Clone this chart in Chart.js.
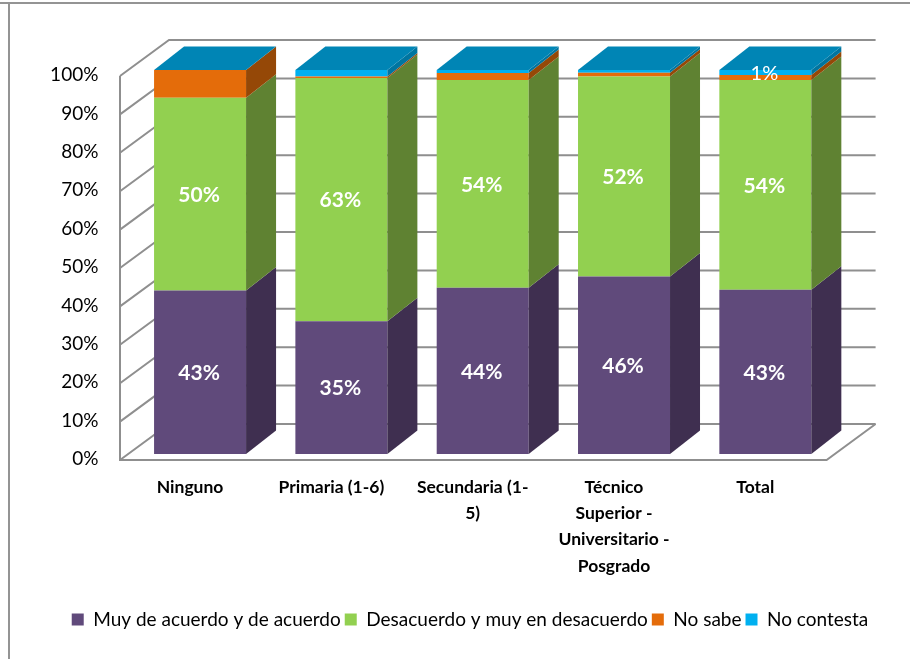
<!DOCTYPE html>
<html>
<head>
<meta charset="utf-8">
<title>Grafico</title>
<script src="https://cdn.jsdelivr.net/npm/chart.js@4"></script>
<style>
  html, body { margin: 0; padding: 0; background: #fff; }
  canvas { display: block; }
</style>
</head>
<body>
<canvas id="grafico" width="910" height="659"></canvas>
<script>
let categorias = ["Ninguno", "Primaria (1-6)", ["Secundaria (1-", "5)"], ["Técnico", "Superior -", "Universitario -", "Posgrado"], "Total"];
let deAcuerdo = [42.6, 34.6, 43.3, 46.2, 42.8];
let desacuerdo = [50.2, 63.3, 54.1, 52.1, 54.6];
let noSabe = [7.2, 0.4, 1.8, 1.0, 1.3];
let noContesta = [0, 1.7, 0.8, 0.7, 1.3];
let etiquetasDeAcuerdo = ["43%", "35%", "44%", "46%", "43%"];
let etiquetasDesacuerdo = ["50%", "63%", "54%", "52%", "54%"];
let etiquetasNoContesta = ["", "", "", "", "1%"];
let marcasEje = [0, 10, 20, 30, 40, 50, 60, 70, 80, 90, 100];

const FUENTE = "Lato, 'Open Sans', sans-serif";
const COLOR_REJILLA = "#8f8f8f";

// profundidad de la barra y de la caja 3D
const BARRA_DX = 30, BARRA_DY = -23.5;
const CAJA_DX = 49, CAJA_DY = -36;
// el plano frontal de la caja queda un poco delante de las barras
const FRENTE_DX = -9.4, FRENTE_DY = 6;

function dibujarCaja(chart) {
    let ctx = chart.ctx;
    let y = chart.scales.y;
    let area = chart.chartArea;
    let xFrente = area.left + FRENTE_DX;
    let xFin = area.right + FRENTE_DX;

    ctx.save();
    // marco exterior, solo arriba y a la izquierda
    ctx.fillStyle = "#949494";
    ctx.fillRect(0, 2, 910, 2);
    ctx.fillRect(8, 2, 2, 657);

    ctx.strokeStyle = COLOR_REJILLA;
    ctx.lineWidth = 2;
    marcasEje.forEach(function (v) {
        let yF = y.getPixelForValue(v) + FRENTE_DY;
        ctx.beginPath();
        ctx.moveTo(xFrente, yF);
        ctx.lineTo(xFrente + CAJA_DX, yF + CAJA_DY);
        ctx.lineTo(xFin + CAJA_DX, yF + CAJA_DY);
        ctx.stroke();
    });

    // eje vertical y suelo
    let y0 = y.getPixelForValue(0) + FRENTE_DY;
    let y100 = y.getPixelForValue(100) + FRENTE_DY;
    ctx.beginPath();
    ctx.moveTo(xFrente, y100);
    ctx.lineTo(xFrente, y0);
    ctx.lineTo(xFin, y0);
    ctx.lineTo(xFin + CAJA_DX, y0 + CAJA_DY);
    ctx.stroke();
    ctx.restore();
}

function dibujarCaras(chart) {
    let ctx = chart.ctx;
    chart.data.datasets.forEach(function (ds, i) {
        chart.getDatasetMeta(i).data.forEach(function (barra, j) {
            if (ds.data[j] <= 0) return;
            let xDer = barra.x + barra.width / 2;
            ctx.fillStyle = ds.colorLado;
            ctx.beginPath();
            ctx.moveTo(xDer, barra.base);
            ctx.lineTo(xDer + BARRA_DX, barra.base + BARRA_DY);
            ctx.lineTo(xDer + BARRA_DX, barra.y + BARRA_DY);
            ctx.lineTo(xDer, barra.y);
            ctx.closePath();
            ctx.fill();
        });
    });

    // tapa superior
    let meta = chart.getDatasetMeta(chart.data.datasets.length - 1);
    meta.data.forEach(function (barra) {
        let xIzq = barra.x - barra.width / 2;
        let xDer = barra.x + barra.width / 2;
        ctx.fillStyle = "#0085b5";
        ctx.beginPath();
        ctx.moveTo(xIzq, barra.y);
        ctx.lineTo(xDer, barra.y);
        ctx.lineTo(xDer + BARRA_DX, barra.y + BARRA_DY);
        ctx.lineTo(xIzq + BARRA_DX, barra.y + BARRA_DY);
        ctx.closePath();
        ctx.fill();
    });
}

function dibujarEtiquetas(chart) {
    let ctx = chart.ctx;
    ctx.save();
    ctx.fillStyle = "#ffffff";
    ctx.textAlign = "center";
    ctx.textBaseline = "middle";
    chart.data.datasets.forEach(function (ds, i) {
        if (!ds.etiquetas) return;
        ctx.font = ds.fuenteEtiqueta;
        chart.getDatasetMeta(i).data.forEach(function (barra, j) {
            if (ds.etiquetas[j] === "") return;
            ctx.fillText(ds.etiquetas[j], barra.x - 1, (barra.y + barra.base) / 2 + 1);
        });
    });
    ctx.restore();
}

const caja3d = {
    id: "caja3d",
    beforeDatasetsDraw: dibujarCaja,
    afterDatasetsDraw: function (chart) {
        dibujarCaras(chart);
        dibujarEtiquetas(chart);
    }
};

let ctx = document.getElementById("grafico").getContext("2d");
let grafico = new Chart(ctx, {
    type: "bar",
    plugins: [caja3d],
    data: {
        labels: categorias,
        datasets: [
            { label: "Muy de acuerdo y de acuerdo", data: deAcuerdo, backgroundColor: "#604a7b", colorLado: "#3f2f50", etiquetas: etiquetasDeAcuerdo, fuenteEtiqueta: "bold 21px " + FUENTE },
            { label: "Desacuerdo y muy en desacuerdo", data: desacuerdo, backgroundColor: "#92d050", colorLado: "#5f8232", etiquetas: etiquetasDesacuerdo, fuenteEtiqueta: "bold 21px " + FUENTE },
            { label: "No sabe", data: noSabe, backgroundColor: "#e46c0a", colorLado: "#954807" },
            { label: "No contesta", data: noContesta, backgroundColor: "#00b0f0", colorLado: "#0075a0", etiquetas: etiquetasNoContesta, fuenteEtiqueta: "20px " + FUENTE }
        ]
    },
    options: {
        responsive: false,
        animation: false,
        maintainAspectRatio: false,
        layout: { padding: { left: 30, right: 0, top: 70, bottom: 20 } },
        datasets: { bar: { barPercentage: 1, categoryPercentage: 0.651 } },
        scales: {
            x: {
                stacked: true,
                grid: { display: false, drawTicks: false },
                border: { display: false },
                afterFit: function (scale) { scale.height = 152; },
                ticks: {
                    color: "#000000",
                    padding: 20,
                    labelOffset: -10,
                    maxRotation: 0,
                    autoSkip: false,
                    font: { family: FUENTE, size: 17.5, weight: "bold", lineHeight: 1.5 }
                }
            },
            y: {
                stacked: true,
                min: 0,
                max: 100,
                grid: { display: false, drawTicks: false },
                border: { display: false },
                afterFit: function (scale) { scale.width = 99.4; },
                ticks: {
                    stepSize: 10,
                    color: "#000000",
                    padding: 31,
                    labelOffset: 5,
                    font: { family: FUENTE, size: 19 },
                    callback: function (v) { return v + "%"; }
                }
            },
            // solo reserva el hueco a la derecha de las barras
            margen: {
                type: "linear",
                position: "right",
                grid: { display: false, drawTicks: false },
                border: { display: false },
                ticks: { display: false },
                afterFit: function (scale) { scale.width = 74; }
            }
        },
        plugins: {
            tooltip: { enabled: false },
            legend: {
                position: "bottom",
                labels: {
                    color: "#000000",
                    boxWidth: 12,
                    boxHeight: 12,
                    padding: 4,
                    font: { family: FUENTE, size: 19 }
                }
            }
        }
    }
});
</script>
</body>
</html>
